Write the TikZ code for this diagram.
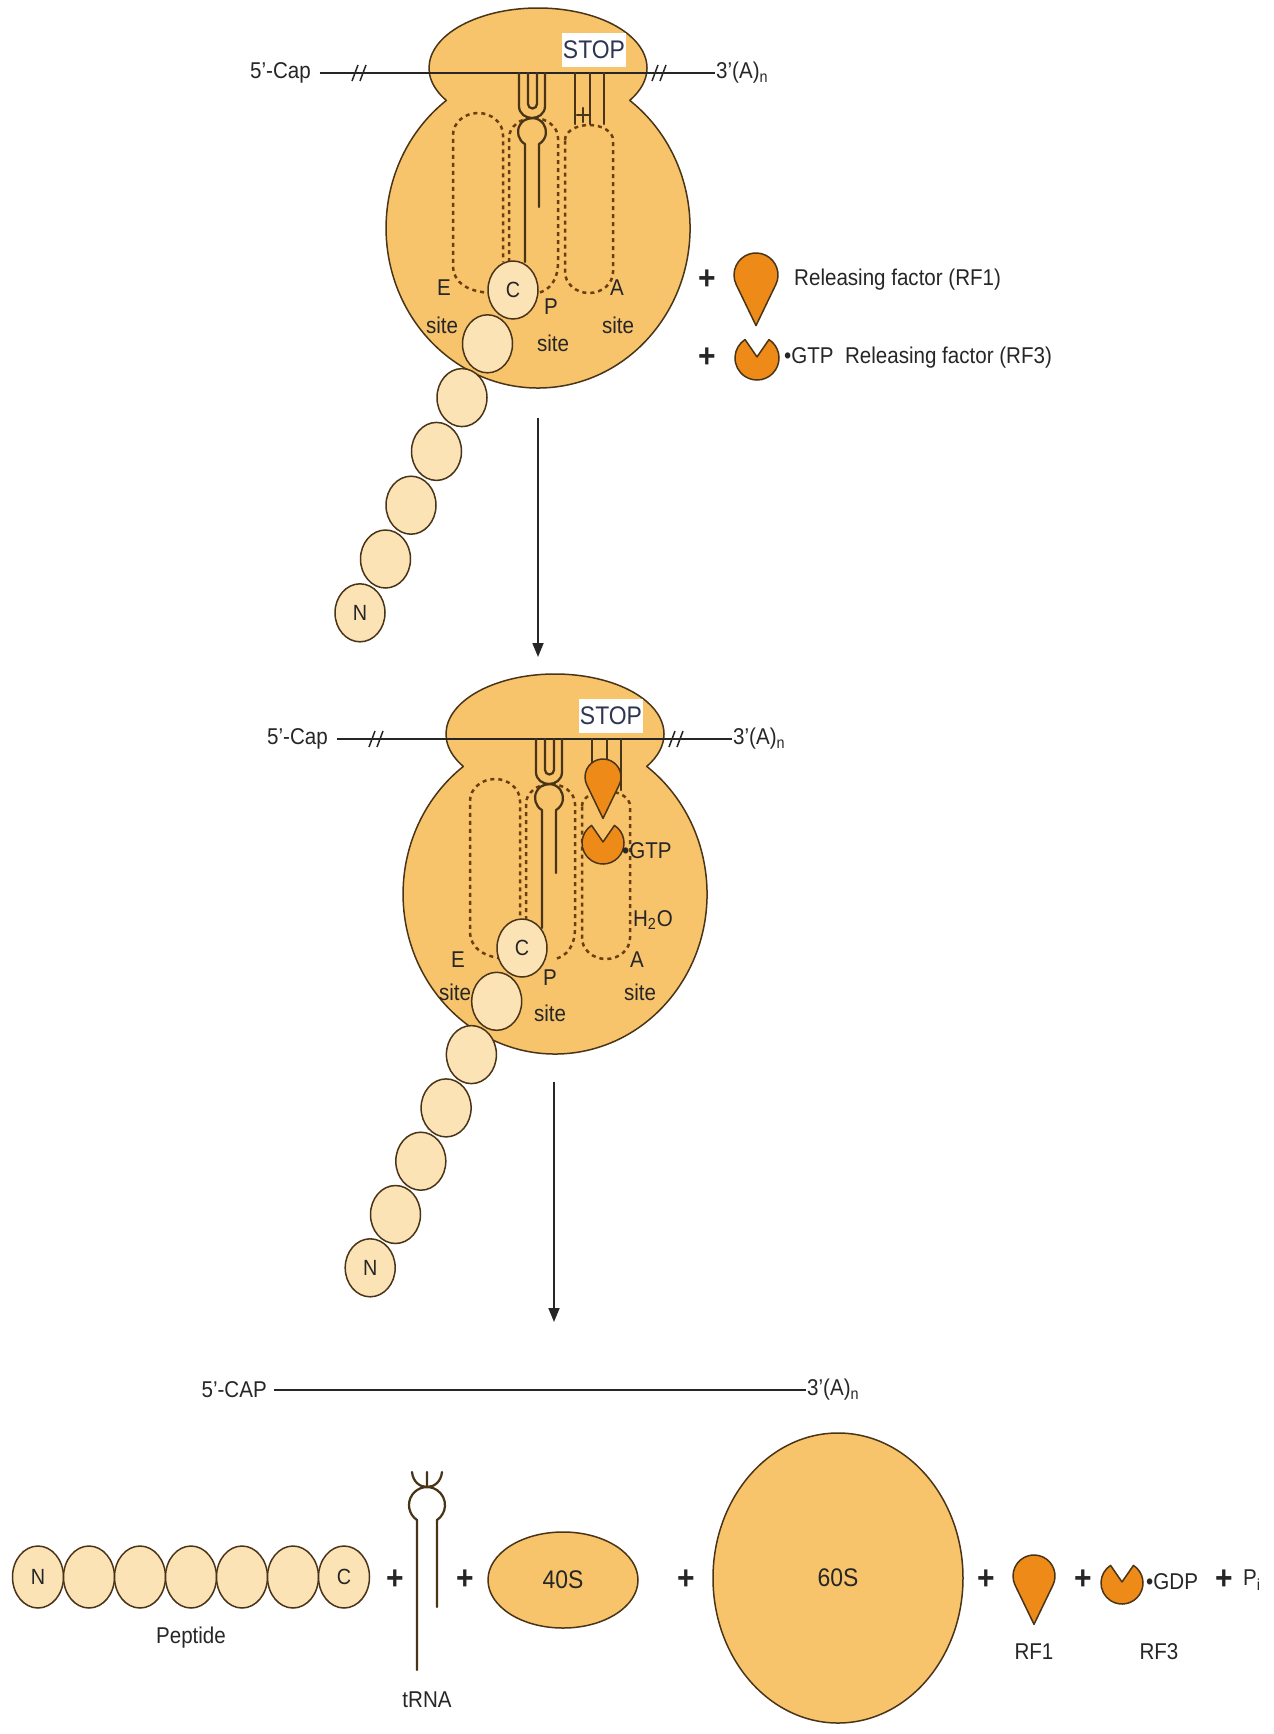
\documentclass[tikz,border=0pt]{standalone}
\usepackage{fontspec}
\setmainfont{Liberation Sans}[FakeStretch=0.9]
\usetikzlibrary{arrows.meta,shapes.geometric}
\definecolor{RiboTan}{HTML}{F7C46C}
\definecolor{PepCream}{HTML}{FBE3B6}
\definecolor{FactorOrange}{HTML}{EE8A18}
\definecolor{EdgeBrown}{HTML}{4A3418}
\definecolor{SiteBrown}{HTML}{6B3E0E}
\definecolor{Ink}{HTML}{262626}
\definecolor{StopNavy}{HTML}{2E3552}

\tikzset{
  ribo/.style={fill=RiboTan,draw=EdgeBrown,line width=0.3mm},
  site/.style={draw=SiteBrown,line width=0.5mm,dash pattern=on 0.8mm off 0.8mm},
  trna/.style={draw=EdgeBrown,line width=0.45mm,line cap=round},
  mrna/.style={draw=Ink,line width=0.4mm},
  lbl/.style={text=Ink,font=\fontsize{13}{15}\selectfont,inner sep=0.5pt},
  plus/.style={text=Ink,font=\fontsize{19}{21}\selectfont\bfseries,inner sep=0pt},
  stopbox/.style={fill=white,text=StopNavy,font=\fontsize{14.5}{16}\selectfont,inner sep=0pt,minimum width=12.8mm,minimum height=6.8mm},
  pep/.style={ellipse,fill=PepCream,draw=EdgeBrown,line width=0.3mm,inner sep=0pt,minimum width=10mm,minimum height=11.6mm,text=Ink,font=\fontsize{12.5}{14}\selectfont},
  pepb/.style={pep,minimum width=10.2mm,minimum height=12.4mm},
  subunit/.style={ellipse,fill=RiboTan,draw=EdgeBrown,line width=0.3mm,text=Ink,font=\fontsize{14.5}{16}\selectfont},
  rf/.style={fill=FactorOrange,draw=EdgeBrown,line width=0.3mm},
  flow/.style={draw=Ink,line width=0.35mm,-{Triangle[length=2.8mm,width=2.2mm]}},
  rfone/.pic={\path[rf] (0,46) -- (26:20) arc[start angle=26,end angle=-206,radius=20] -- cycle;},
  rfthree/.pic={\path[rf] (0,-1) -- (303:20) arc[start angle=303,end angle=597,radius=20] -- cycle;}
}

% ribosome on the mRNA: subunits, E/P/A sites, peptidyl-tRNA, stop codon
\newcommand{\ribosome}[1]{%
  \path[ribo] (446.3,100.4) arc[start angle=147.3,end angle=392.7,x radius=109,y radius=60]
    arc[start angle=-52.9,end angle=232.9,x radius=152,y radius=160] -- cycle;
  \draw[site] (492,293) .. controls (468,292) and (453,283) .. (453,265) -- (453,135)
    arc[start angle=180,end angle=360,x radius=25,y radius=22] -- (503,262);
  \draw[site] (509,262) -- (509,138) arc[start angle=180,end angle=360,x radius=24.5,y radius=20]
    -- (558,262) .. controls (558,280) and (550,290) .. (538,293);
  \draw[site] (565,140) arc[start angle=180,end angle=360,x radius=24,y radius=15]
    -- (613,272) arc[start angle=0,end angle=180,x radius=24,y radius=21] -- cycle;
  \node[lbl,anchor=east] (#1cap) at (312,73) {5'-Cap};
  \node[lbl,anchor=west] (#1tail) at (715,73) {3'(A)\textsubscript{n}};
  \draw[mrna,shorten <=1.5mm] (#1cap) -- (#1tail);
  \draw[mrna,line width=0.3mm] (352,81) -- (358,65) (360,81) -- (366,65) (652,81) -- (658,65) (660,81) -- (666,65);
  \node[stopbox] (#1stop) at (594,50) {STOP};
  % anticodon arms, loop and stem
  \draw[trna] (519,73) -- (519,106) .. controls (519,114) and (526,118) .. (532,118)
    .. controls (538,118) and (545,114) .. (545,106) -- (545,73);
  \draw[trna] (528,73) -- (528,104) arc[start angle=180,end angle=0,radius=4.5] -- (537,73);
  \draw[trna] (525,262) -- (525,144.1) arc[start angle=120,end angle=420,radius=14] -- (539,207);
  \draw[trna] (575,73) -- (575,124) (590,73) -- (590,124) (604,73) -- (604,124)
    (577,115) -- (590,115) (583,108) -- (583,122);
}

\begin{document}
\begin{tikzpicture}[x=0.2mm,y=-0.2mm,line join=round]
  \useasboundingbox (0,0) rectangle (1273,1734);

  % before release
  \begin{scope}
    \ribosome{a}
    \node[lbl] (aE) at (444,288) {E};\node[lbl] (aEs) at (442,325) {site};
    \node[lbl] (aP) at (551,307) {P};\node[lbl] (aPs) at (553,343) {site};
    \node[lbl] (aA) at (617,288) {A};\node[lbl] (aAs) at (618,325) {site};
    \foreach \i/\t in {6/N,5/,4/,3/,2/,1/,0/C}
      \node[pep] (ap\i) at ({513-25.5*\i},{290+53.8*\i}) {\t};
  \end{scope}
  \node[plus] (plusa) at (707,280) {+};
  \pic[scale=1.1] at (756,275) {rfone};
  \node[lbl,anchor=west] (rfonetxt) at (793,280) {Releasing factor (RF1)};
  \node[plus] (plusb) at (707,358) {+};
  \pic[scale=1.1] at (757,358) {rfthree};
  \node[lbl,anchor=west] (rfthreetxt) at (783,358) {\textbullet GTP\enspace Releasing factor (RF3)};

  \coordinate (downa) at (538,418);\coordinate (downb) at (538,657);
  \draw[flow] (downa) -- (downb);

  % factors bound in the A site
  \begin{scope}[shift={(17,666)}]
    \ribosome{b}
    \node[lbl] (bE) at (441,294) {E};\node[lbl] (bEs) at (438,326) {site};
    \node[lbl] (bP) at (533,312) {P};\node[lbl] (bPs) at (533,347) {site};
    \node[lbl] (bA) at (620,294) {A};\node[lbl] (bAs) at (623,326) {site};
    \pic[scale=1.05] at (586,177) {rfthree};
    \pic[scale=0.9] at (586,111) {rfone};
    \node[lbl,anchor=west] (bgtp) at (604,185) {\textbullet GTP};
    \node[lbl] (bwater) at (636,254) {H\textsubscript{2}O};
    \foreach \i/\t in {6/N,5/,4/,3/,2/,1/,0/C}
      \node[pep] (bp\i) at ({505-25.3*\i},{282+53.3*\i}) {\t};
  \end{scope}

  \coordinate (downc) at (554,1082);\coordinate (downd) at (554,1322);
  \draw[flow] (downc) -- (downd);

  % released parts
  \node[lbl,anchor=east] (ccap) at (268,1390) {5'-CAP};
  \node[lbl,anchor=west] (ctail) at (806,1390) {3'(A)\textsubscript{n}};
  \draw[mrna,line width=0.55mm,shorten <=1.2mm] (ccap) -- (ctail);
  \foreach \i/\t in {0/N,1/,2/,3/,4/,5/,6/C}
    \node[pepb] (cp\i) at ({38+51*\i},1577) {\t};
  \node[lbl] (peptide) at (191,1638) {Peptide};
  \node[plus] (plusc) at (395,1580) {+};
  \draw[trna] (417,1670) -- (417,1520) arc[start angle=123.75,end angle=416.25,radius=18] -- (437,1607);
  \draw[trna] (427,1487) -- (427,1472) (412,1472) .. controls (413,1482) and (420,1487) .. (427,1487)
    .. controls (434,1487) and (441,1482) .. (442,1472);
  \node[lbl] (trnatxt) at (427,1700) {tRNA};
  \node[plus] (plusd) at (465,1580) {+};
  \node[subunit,minimum width=30mm,minimum height=19.2mm] (small) at (563,1580) {40S};
  \node[plus] (pluse) at (686,1580) {+};
  \node[subunit,minimum width=50mm,minimum height=58mm] (large) at (838,1578) {60S};
  \node[plus] (plusf) at (986,1580) {+};
  \pic[scale=1.05] at (1034,1576) {rfone};
  \node[lbl] (rfonelbl) at (1034,1652) {RF1};
  \node[plus] (plusg) at (1083,1580) {+};
  \pic[scale=1.05] at (1122,1583) {rfthree};
  \node[lbl,anchor=west] (gdp) at (1145,1582) {\textbullet GDP};
  \node[lbl] (rfthreelbl) at (1159,1652) {RF3};
  \node[plus] (plush) at (1224,1580) {+};
  \node[lbl,anchor=west] (phos) at (1242,1580) {P\textsubscript{i}};
\end{tikzpicture}
\end{document}
